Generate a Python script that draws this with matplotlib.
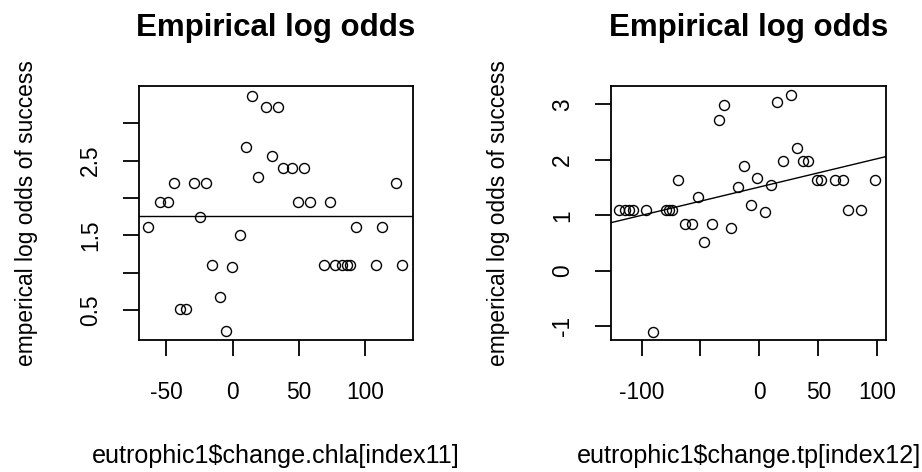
import matplotlib
matplotlib.use("Agg")
import matplotlib.pyplot as plt

plt.rcParams['font.family'] = ['Liberation Sans', 'DejaVu Sans']

# Panel 1: change in chlorophyll a vs empirical log odds
chla_change = [-63.9, -54.5, -48.5, -44.5, -39.7, -35.2, -29.5, -20.1, -24.6,
               -15.3, -9.5, -5.0, -0.3, 5.5, 9.8, 14.3, 19.1, 24.9, 34.4,
               29.6, 38.1, 45.0, 53.8, 49.3, 58.3, 73.3, 68.5, 77.1, 82.5,
               85.9, 88.7, 93.0, 112.8, 108.0, 127.6, 123.3]
chla_logodds = [1.61, 1.95, 1.95, 2.20, 0.51, 0.51, 2.20, 2.20, 1.75,
                1.10, 0.67, 0.22, 1.07, 1.50, 2.68, 3.37, 2.28, 3.22, 3.22,
                2.56, 2.40, 2.40, 2.40, 1.95, 1.95, 1.95, 1.10, 1.10, 1.10,
                1.10, 1.10, 1.61, 1.61, 1.10, 1.10, 2.20]
chla_fit = (1.755, 0.0)  # intercept, slope

# Panel 2: change in total phosphorus vs empirical log odds
tp_change = [-118.8, -113.7, -110.9, -107.5, -95.9, -79.2, -76.4, -74.1,
             -90.5, -68.7, -63.3, -57.1, -51.8, -47.0, -40.2, -34.2, -29.7,
             -24.3, -17.8, -13.0, -7.4, -2.3, 4.8, 9.6, 14.7, 19.8, 26.6,
             31.7, 36.8, 41.6, 49.2, 52.1, 64.3, 70.8, 75.6, 86.1, 98.2]
tp_logodds = [1.10, 1.10, 1.10, 1.10, 1.10, 1.10, 1.10, 1.10,
              -1.10, 1.64, 0.85, 0.85, 1.33, 0.52, 0.85, 2.72, 2.98,
              0.78, 1.51, 1.89, 1.18, 1.68, 1.06, 1.54, 3.05, 1.98, 3.16,
              2.22, 1.98, 1.98, 1.64, 1.64, 1.64, 1.64, 1.10, 1.10, 1.64]
tp_fit = (1.51, 0.0051)

panels = [
    dict(x=chla_change, y=chla_logodds, fit=chla_fit,
         xlabel="eutrophic1$change.chla[index11]",
         xlim=(-70.6, 135.9), ylim=(0.098, 3.499),
         xticks=[-50, 0, 50, 100], xticklabels=["-50", "0", "50", "100"],
         yticks=[0.5, 1.0, 1.5, 2.0, 2.5, 3.0],
         yticklabels=["0.5", "", "1.5", "", "2.5", ""],
         rect=[139 / 922, 1 - 340 / 472, 274 / 922, 254 / 472]),
    dict(x=tp_change, y=tp_logodds, fit=tp_fit,
         xlabel="eutrophic1$change.tp[index12]",
         xlim=(-125.9, 107.5), ylim=(-1.246, 3.33),
         xticks=[-100, -50, 0, 50, 100],
         xticklabels=["-100", "", "0", "50", "100"],
         yticks=[-1, 0, 1, 2, 3],
         yticklabels=["-1", "0", "1", "2", "3"],
         rect=[611 / 922, 1 - 340 / 472, 275 / 922, 254 / 472]),
]

fig = plt.figure(figsize=(9.22, 4.72), dpi=100)

for p in panels:
    ax = fig.add_axes(p["rect"])
    ax.plot(p["x"], p["y"], linestyle="none", marker="o", markersize=7.2,
            markerfacecolor="none", markeredgecolor="black",
            markeredgewidth=1.0)
    b0, b1 = p["fit"]
    ax.axline((0, b0), slope=b1, color="black", linewidth=1.0)
    ax.set_xlim(p["xlim"])
    ax.set_ylim(p["ylim"])
    ax.set_xticks(p["xticks"])
    ax.set_xticklabels(p["xticklabels"])
    ax.set_yticks(p["yticks"])
    ax.set_yticklabels(p["yticklabels"])
    for s in ax.spines.values():
        s.set_linewidth(1.3)
    ax.tick_params(axis="both", direction="out", length=11.5, width=1.3,
                   labelsize=16.4, colors="black")
    ax.tick_params(axis="x", pad=18)
    ax.tick_params(axis="y", pad=15, labelrotation=90)
    for t in ax.get_yticklabels():
        t.set_va("center")
    ax.set_title("Empirical log odds", fontsize=22.5, fontweight="bold",
                 pad=36)
    ax.set_xlabel(p["xlabel"], fontsize=18.1, labelpad=29)
    ax.set_ylabel("emperical log odds of success", fontsize=16.4,
                  labelpad=30)

fig.savefig("out.png", dpi=100)
